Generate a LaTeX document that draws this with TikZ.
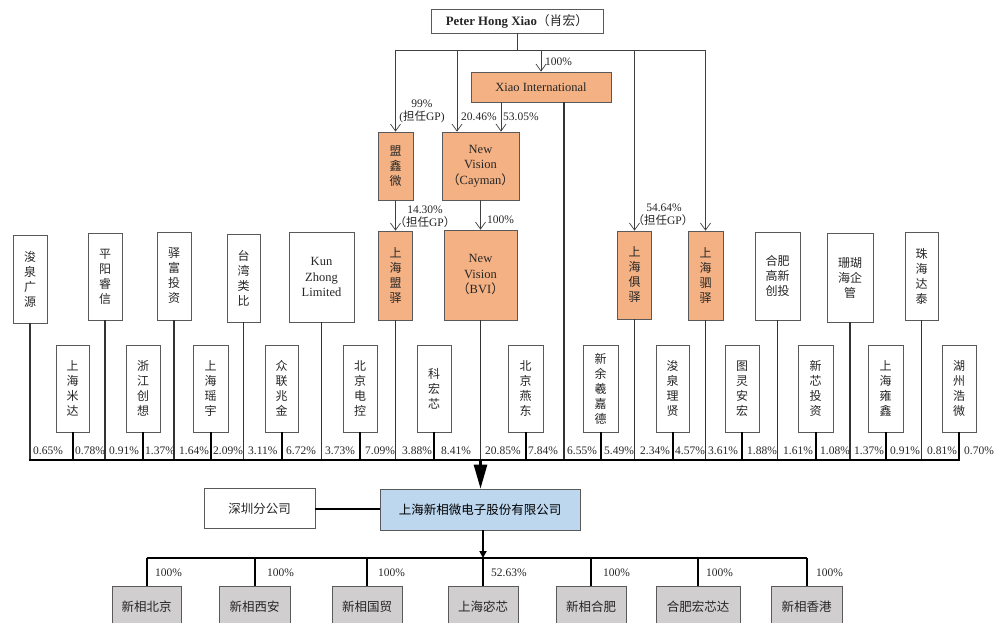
\documentclass[tikz,border=0pt]{standalone}
\usepackage{fontspec}
\setmainfont{Liberation Serif}
\newfontfamily\cjk{Noto Sans CJK SC}
\usetikzlibrary{arrows.meta}
\definecolor{orf}{HTML}{F4B183}
\definecolor{grf}{HTML}{D0CECE}
\definecolor{blf}{HTML}{BDD7EE}
\definecolor{bdr}{HTML}{595959}
\begin{document}
\begin{tikzpicture}[x=1pt,y=-1pt,
 wh/.style 2 args={minimum width=#1pt,minimum height=#2pt},
 box/.style={draw=bdr,line width=0.7pt,inner sep=0pt,align=center,text=black!85},
 wbox/.style={box,fill=white},
 obox/.style={box,fill=orf},
 gbox/.style={box,fill=grf},
 bbox/.style={box,fill=blf},
 cn/.style={font=\cjk\fontsize{12}{15}\selectfont},
 en/.style={font=\fontsize{12.5}{15.5}\selectfont},
 pct/.style={font=\fontsize{11.5}{13}\selectfont,inner sep=0pt,anchor=base west,text=black!85},
 arr/.style={draw=black!75,line width=0.7pt,-{Straight Barb[length=7pt,width=10pt]}},
 tln/.style={draw=black!75,line width=0.7pt},
 tline/.style={draw=black!80,line width=1.3pt},
 bline/.style={draw=black,line width=2pt},
]
\useasboundingbox (0,0) rectangle (995,623);
\clip (0,0) rectangle (995,623);
\fill[white] (0,0) rectangle (995,623);

% ---- top level ----
\node[wbox,wh={172}{24},font=\bfseries\fontsize{12.8}{14}\selectfont] (peter) at (517,21) {Peter Hong Xiao{\mdseries\cjk（肖宏）}};
\node[obox,en,wh={140}{30}] (xiao) at (541,87) {Xiao International};
\node[obox,cn,wh={35}{68}] (mxw) at (395.5,166) {盟\\鑫\\微};
\node[obox,en,wh={77}{68}] (cay) at (480.5,166) {New\\Vision\\{\cjk（}Cayman{\cjk）}};
\node[obox,cn,wh={34}{89}] (shmy) at (395.5,275.5) {上\\海\\盟\\驿};
\node[obox,en,wh={73}{90}] (bvi) at (480.5,275) {New\\Vision\\{\cjk（}BVI{\cjk）}};
\node[obox,cn,wh={34}{88}] (shjy) at (634.5,275) {上\\海\\俱\\驿};
\node[obox,cn,wh={35}{89}] (shsy) at (705.5,275.5) {上\\海\\驷\\驿};

% ---- top row shareholders ----
\node[wbox,cn,wh={34}{88}] (jqgy) at (30,279) {浚\\泉\\广\\源};
\node[wbox,cn,wh={34}{87}] (pyrx) at (105,276.5) {平\\阳\\睿\\信};
\node[wbox,cn,wh={34}{88}] (yftz) at (174,276) {驿\\富\\投\\资};
\node[wbox,cn,wh={33}{88}] (twlb) at (243.5,278) {台\\湾\\类\\比};
\node[wbox,en,wh={65}{90}] (kzl) at (321.5,277) {Kun\\Zhong\\Limited};
\node[wbox,cn,wh={45}{88}] (hfgx) at (777.5,276) {合肥\\高新\\创投};
\node[wbox,cn,wh={46}{89}] (shhq) at (850,277.5) {珊瑚\\海企\\管};
\node[wbox,cn,wh={33}{88}] (zhdt) at (921.5,276) {珠\\海\\达\\泰};

% ---- lower row shareholders ----
\node[wbox,cn,wh={33}{87}] (shmd) at (72.5,388.5) {上\\海\\米\\达};
\node[wbox,cn,wh={34}{87}] (zjcx) at (143,388.5) {浙\\江\\创\\想};
\node[wbox,cn,wh={35}{87}] (shyy) at (210.5,388.5) {上\\海\\瑶\\宇};
\node[wbox,cn,wh={33}{87}] (zlzj) at (281.5,388.5) {众\\联\\兆\\金};
\node[wbox,cn,wh={34}{87}] (bjdk) at (360,388.5) {北\\京\\电\\控};
\node[wbox,cn,wh={34}{87}] (khx) at (434,388.5) {科\\宏\\芯};
\node[wbox,cn,wh={35}{87}] (bjyd) at (525.5,388.5) {北\\京\\燕\\东};
\node[wbox,cn,wh={35}{87}] (xyxjd) at (600.5,388.5) {新\\余\\羲\\嘉\\德};
\node[wbox,cn,wh={33}{87}] (jqlx) at (672.5,388.5) {浚\\泉\\理\\贤};
\node[wbox,cn,wh={34}{87}] (tlah) at (742,388.5) {图\\灵\\安\\宏};
\node[wbox,cn,wh={35}{87}] (xxtz) at (815.5,388.5) {新\\芯\\投\\资};
\node[wbox,cn,wh={35}{87}] (shyx) at (885.5,388.5) {上\\海\\雍\\鑫};
\node[wbox,cn,wh={34}{87}] (hzhw) at (959,388.5) {湖\\州\\浩\\微};

% ---- company ----
\node[bbox,font=\cjk\fontsize{12.5}{15}\selectfont,text=black,wh={200}{41}] (main) at (480,509.5) {上海新相微电子股份有限公司};
\node[wbox,font=\cjk\fontsize{12.5}{15}\selectfont,wh={111}{40}] (sz) at (259.5,508.5) {深圳分公司};

% ---- subsidiaries ----
\node[gbox,font=\cjk\fontsize{12.5}{15}\selectfont,wh={69}{42}] (xbj) at (146.5,607) {新相北京};
\node[gbox,font=\cjk\fontsize{12.5}{15}\selectfont,wh={71}{42}] (xxa) at (254.5,607) {新相西安};
\node[gbox,font=\cjk\fontsize{12.5}{15}\selectfont,wh={70}{42}] (xgm) at (367,607) {新相国贸};
\node[gbox,font=\cjk\fontsize{12.5}{15}\selectfont,wh={70}{42}] (shmx) at (483,607) {上海宓芯};
\node[gbox,font=\cjk\fontsize{12.5}{15}\selectfont,wh={70}{42}] (xhf) at (591,607) {新相合肥};
\node[gbox,font=\cjk\fontsize{12.5}{15}\selectfont,wh={84}{42}] (hfhxd) at (698,607) {合肥宏芯达};
\node[gbox,font=\cjk\fontsize{12.5}{15}\selectfont,wh={71}{42}] (xhk) at (806.5,607) {新相香港};

% ---- top connectors ----
\coordinate (hub) at (517,50);
\coordinate (hL) at (395.5,50);
\coordinate (hR) at (705.5,50);
\coordinate (hC) at (457,50);
\draw[tln] (peter.south) -- (hub);
\draw[tln] (hL) -- (hR);
\draw[arr] (hL) -- (mxw.north);
\draw[arr] (hC) -- (hC |- cay.north);
\draw[arr] (xiao.north |- hub) -- (xiao.north);
\draw[arr] (shjy.north |- hub) -- (shjy.north);
\draw[arr] (hR) -- (shsy.north);
\draw[arr] ([xshift=-40pt]xiao.south) -- ([xshift=-40pt]xiao.south |- cay.north);
\draw[arr] (mxw.south) -- (shmy.north);
\draw[arr] (cay.south) -- (bvi.north);

% ---- bus ----
\coordinate (busL) at (29,460);
\coordinate (busR) at (960,460);
\coordinate (busM) at (480.5,460);
\foreach \n in {jqgy,pyrx,yftz,twlb,kzl,shmy,bvi,shjy,shsy,hfgx,shhq,zhdt}
  \draw[tline] (\n.south) -- (\n.south |- busL);
\draw[tline] ([xshift=23pt]xiao.south) -- ([xshift=23pt]xiao.south |- busL);
\foreach \n in {shmd,zjcx,shyy,zlzj,bjdk,khx,bjyd,xyxjd,jqlx,tlah,xxtz,shyx,hzhw}
  \draw[bline] (\n.south) -- (\n.south |- busL);
\draw[bline] (busL) -- (busR);
\draw[draw=black,line width=2.6pt,-{Triangle[length=24pt,width=13pt]}] (busM) -- (busM |- main.north);

% ---- percentages ----
\foreach \x/\lab [count=\i] in {33/0.65,75/0.78,109/0.91,145/1.37,179/1.64,213/2.09,248/3.11,286/6.72,325/3.73,365/7.09,402/3.88,441/8.41,485/20.85,528/7.84,567/6.55,604/5.49,640/2.34,675/4.57,708/3.61,747/1.88,783/1.61,820/1.08,854/1.37,890/0.91,927/0.81,964/0.70}
  \node[pct] (p\i) at (\x,454) {\lab\%};

\node[pct] (l100a) at (545,66) {100\%};
\node[pct,anchor=base] (l99) at (422,107) {99\%};
\node[pct,anchor=base] (lgp1) at (422,121) {({\cjk 担任}GP)};
\node[pct] (l2046) at (461,121) {20.46\%};
\node[pct] (l5305) at (503,121) {53.05\%};
\node[pct,anchor=base] (l1430) at (425,213) {14.30\%};
\node[pct,anchor=base] (lgp2) at (425,226) {{\cjk（担任}GP{\cjk）}};
\node[pct] (l100b) at (487,223) {100\%};
\node[pct,anchor=base] (l5464) at (664,211) {54.64\%};
\node[pct,anchor=base] (lgp3) at (663,224) {{\cjk（担任}GP{\cjk）}};

% ---- company connectors ----
\draw[bline] (sz.east) -- (sz.east -| main.west);
\coordinate (bb) at (483,558);
\draw[bline,-{Triangle[length=7pt,width=7pt]}] (bb |- main.south) -- (bb);
\draw[bline] (xbj.north |- bb) -- (xhk.north |- bb);
\foreach \n in {xbj,xxa,xgm,shmx,xhf,hfhxd,xhk}
  \draw[bline] (\n.north |- bb) -- (\n.north);

\foreach \x/\lab [count=\i] in {155/100,267/100,378/100,491/52.63,603/100,706/100,816/100}
  \node[pct] (q\i) at (\x,576) {\lab\%};
\end{tikzpicture}
\end{document}
